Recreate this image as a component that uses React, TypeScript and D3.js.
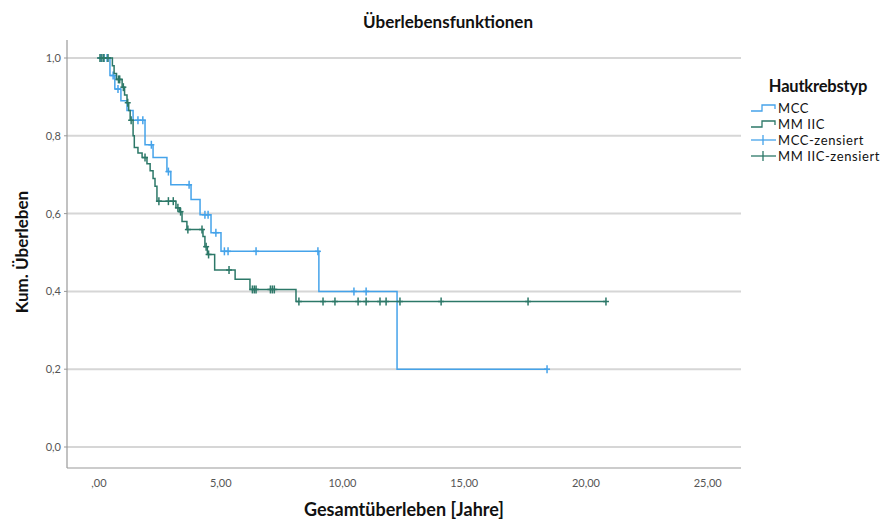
import React from "react";
import * as d3 from "d3";

const mccEventTimes = [0.45, 0.65, 0.9, 1.15, 1.4, 1.89, 2.22, 2.79, 2.95, 3.78, 4.15, 4.6, 5.01, 9.03, 12.24];
const mccEventSurv = [0.955, 0.92, 0.89, 0.865, 0.84, 0.777, 0.744, 0.708, 0.674, 0.636, 0.597, 0.551, 0.503, 0.4, 0.2];
const mccCensored = [0.08, 0.2, 0.33, 0.58, 0.78, 1.6, 1.8, 2.15, 2.85, 3.7, 4.35, 4.48, 4.8, 5.15, 5.3, 6.45, 8.99, 10.47, 10.97, 18.4];

const mmEventTimes = [0.55, 0.62, 0.72, 0.95, 1.05, 1.15, 1.22, 1.28, 1.4, 1.45, 1.6, 1.77, 1.97, 2.1, 2.22, 2.3, 2.38, 3.16, 3.3, 3.41, 3.61, 4.27, 4.35, 4.45, 4.75, 5.59, 6.2, 8.09];
const mmEventSurv = [0.98, 0.96, 0.945, 0.925, 0.905, 0.885, 0.865, 0.84, 0.8, 0.77, 0.756, 0.744, 0.728, 0.71, 0.69, 0.67, 0.632, 0.615, 0.605, 0.58, 0.559, 0.541, 0.515, 0.495, 0.455, 0.431, 0.405, 0.374];
const mmCensored = [0.04, 0.12, 0.2, 0.37, 0.8, 0.85, 1.0, 1.18, 1.32, 1.89, 2.46, 2.85, 3.05, 3.24, 3.35, 3.65, 4.23, 4.4, 4.5, 5.34, 6.3, 6.38, 6.45, 7.04, 7.12, 7.2, 8.21, 9.2, 9.69, 10.64, 10.97, 11.54, 11.79, 12.36, 14.05, 17.62, 20.82];

const xTicks = [0, 5, 10, 15, 20, 25];
const xTickLabels = [",00", "5,00", "10,00", "15,00", "20,00", "25,00"];
const yTicks = [0, 0.2, 0.4, 0.6, 0.8, 1.0];
const yTickLabels = ["0,0", "0,2", "0,4", "0,6", "0,8", "1,0"];

const seriesNames = ["MCC", "MM IIC"];
const seriesColors = ["#45a3ea", "#2c7868"];

const W = 888, H = 521;
const plotLeft = 67, plotRight = 741, plotTop = 40, plotBottom = 468;
const pxPerYear = 24.35;
const x0 = 99;
const yOne = 58, yZero = 447;

const x = d3.scaleLinear()
  .domain([(plotLeft - x0) / pxPerYear, (plotRight - x0) / pxPerYear])
  .range([plotLeft, plotRight]);
const y = d3.scaleLinear().domain([0, 1]).range([yZero, yOne]);

const FONT = "Lato, 'Open Sans', sans-serif";

function survAt(times: number[], surv: number[], t: number) {
  let s = 1;
  for (let i = 0; i < times.length; i++) if (times[i] <= t) s = surv[i];
  return s;
}

function buildPath(times: number[], surv: number[], censored: number[]) {
  const end = Math.max(d3.max(times) ?? 0, d3.max(censored) ?? 0);
  const pts: [number, number][] = [[0, 1]];
  times.forEach((t, i) => pts.push([t, surv[i]]));
  pts.push([end, surv[surv.length - 1]]);
  const line = d3.line<[number, number]>().x(d => x(d[0])).y(d => y(d[1])).curve(d3.curveStepAfter);
  return line(pts) ?? "";
}

export default function App() {
  const series = [
    { times: mccEventTimes, surv: mccEventSurv, cens: mccCensored },
    { times: mmEventTimes, surv: mmEventSurv, cens: mmCensored },
  ];
  const legX = 751;
  const legRows = [108, 124, 140, 156];
  return (
    <svg width={W} height={H} style={{ position: "absolute", left: 0, top: 0, background: "#fff" }}>
      <text x={448} y={28} textAnchor="middle" fontFamily={FONT} fontWeight="bold" fontSize={17} fill="#111">Überlebensfunktionen</text>
      {yTicks.map((t, i) => (
        <g key={"g" + i}>
          <line x1={plotLeft} x2={plotRight} y1={y(t)} y2={y(t)} stroke="#d6d6d6" strokeWidth={2} />
          <line x1={plotLeft - 3} x2={plotLeft} y1={y(t)} y2={y(t)} stroke="#999" strokeWidth={1} />
          <text x={61} y={y(t) + 4} textAnchor="end" fontFamily={FONT} fontSize={11} fill="#555">{yTickLabels[i]}</text>
        </g>
      ))}
      <line x1={plotLeft} x2={plotLeft} y1={plotTop} y2={plotBottom} stroke="#999" strokeWidth={1.2} />
      <line x1={plotLeft} x2={plotRight} y1={plotBottom} y2={plotBottom} stroke="#999" strokeWidth={1.2} />
      {xTicks.map((t, i) => (
        <text key={"x" + i} x={x(t)} y={487} textAnchor="middle" fontFamily={FONT} fontSize={11} fill="#555">{xTickLabels[i]}</text>
      ))}
      {series.map((s, k) => (
        <g key={"s" + k}>
          <path d={buildPath(s.times, s.surv, s.cens)} fill="none" stroke={seriesColors[k]} strokeWidth={1.5} />
          {s.cens.map((c, j) => {
            const cy = y(survAt(s.times, s.surv, c));
            const cx = x(c);
            return (
              <g key={j}>
                <line x1={cx} x2={cx} y1={cy - 4} y2={cy + 4} stroke={seriesColors[k]} strokeWidth={1.5} />
                <line x1={cx - 3} x2={cx + 3} y1={cy} y2={cy} stroke={seriesColors[k]} strokeWidth={1.5} />
              </g>
            );
          })}
        </g>
      ))}
      <text x={404} y={516} textAnchor="middle" fontFamily={FONT} fontWeight="bold" fontSize={18} fill="#111">Gesamtüberleben [Jahre]</text>
      <text transform="translate(28,252) rotate(-90)" textAnchor="middle" fontFamily={FONT} fontWeight="bold" fontSize={17} fill="#111">Kum. Überleben</text>
      <text x={818} y={92} textAnchor="middle" fontFamily={FONT} fontWeight="bold" fontSize={16.5} letterSpacing={-0.2} fill="#111">Hautkrebstyp</text>
      {seriesNames.map((n, k) => (
        <g key={"l" + k}>
          <path d={`M${legX},${legRows[k] + 3}H${legX + 11}V${legRows[k] - 3}H${legX + 24}V${legRows[k] + 1}`} fill="none" stroke={seriesColors[k]} strokeWidth={1.3} />
          <text x={legX + 27} y={legRows[k] + 4.5} fontFamily={FONT} fontSize={13} letterSpacing={0.6} fill="#111">{n}</text>
        </g>
      ))}
      {seriesNames.map((n, k) => (
        <g key={"c" + k}>
          <line x1={legX} x2={legX + 25} y1={legRows[k + 2]} y2={legRows[k + 2]} stroke={seriesColors[k]} strokeWidth={1.3} />
          <line x1={legX + 12} x2={legX + 12} y1={legRows[k + 2] - 5} y2={legRows[k + 2] + 5} stroke={seriesColors[k]} strokeWidth={1.3} />
          <text x={legX + 27} y={legRows[k + 2] + 4.5} fontFamily={FONT} fontSize={13} letterSpacing={0.6} fill="#111">{n + "-zensiert"}</text>
        </g>
      ))}
    </svg>
  );
}
